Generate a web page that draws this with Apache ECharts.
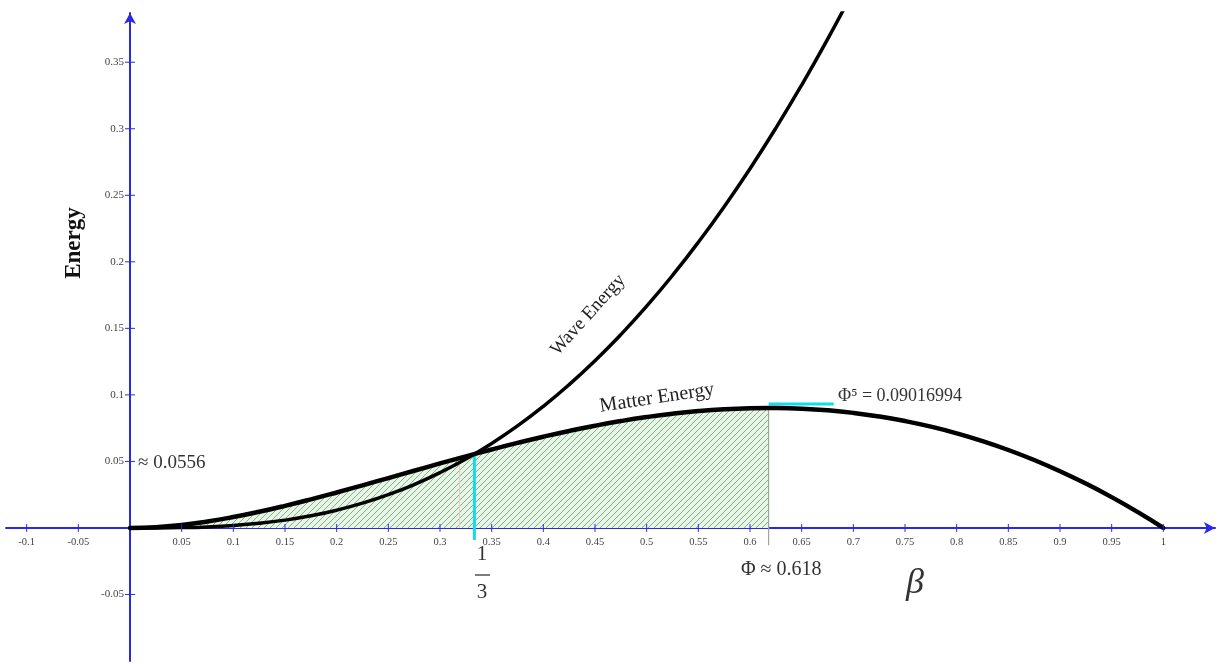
<!DOCTYPE html>
<html>
<head>
<meta charset="utf-8">
<script src="https://cdn.jsdelivr.net/npm/echarts@6/dist/echarts.min.js"></script>
<style>
html,body{margin:0;padding:0;background:#fff;}
#chart{width:1219px;height:664px;}
</style>
</head>
<body>
<div id="chart"></div>
<script>
// ---- data ----
const betaMatter = [0,0.025,0.05,0.075,0.1,0.125,0.15,0.175,0.2,0.225,0.25,0.275,0.3,0.325,0.35,0.375,0.4,0.425,0.45,0.475,0.5,0.525,0.55,0.575,0.6,0.618,0.625,0.65,0.675,0.7,0.725,0.75,0.775,0.8,0.825,0.85,0.875,0.9,0.925,0.95,0.975,1];
const matterEnergy = [0,0.000595,0.002262,0.00484,0.008182,0.012153,0.01663,0.021503,0.026667,0.032028,0.0375,0.043003,0.048462,0.053809,0.058981,0.06392,0.068571,0.072884,0.07681,0.080308,0.083333,0.08585,0.087823,0.089216,0.09,0.09017,0.090144,0.089621,0.088405,0.086471,0.083795,0.080357,0.076136,0.071111,0.065265,0.058581,0.051042,0.042632,0.033336,0.023141,0.012033,0];
const betaWave = [0,0.025,0.05,0.075,0.1,0.125,0.15,0.175,0.2,0.225,0.25,0.275,0.3,0.325,0.35,0.375,0.4,0.425,0.45,0.475,0.5,0.525,0.55,0.575,0.6,0.625,0.65,0.675,0.7];
const waveEnergy = [0,0.00003,0.000238,0.000785,0.001818,0.003472,0.00587,0.009122,0.013333,0.018597,0.025,0.032623,0.041538,0.051816,0.063519,0.076705,0.091429,0.107741,0.12569,0.145318,0.166667,0.189775,0.214677,0.241409,0.27,0.300481,0.332879,0.36722,0.403529];
const xTicks = [-0.1,-0.05,0.05,0.1,0.15,0.2,0.25,0.3,0.35,0.4,0.45,0.5,0.55,0.6,0.65,0.7,0.75,0.8,0.85,0.9,0.95,1];
const xTickLabels = ['-0.1','-0.05','0.05','0.1','0.15','0.2','0.25','0.3','0.35','0.4','0.45','0.5','0.55','0.6','0.65','0.7','0.75','0.8','0.85','0.9','0.95','1'];
const yTicks = [-0.05,0.05,0.1,0.15,0.2,0.25,0.3,0.35];
const yTickLabels = ['-0.05','0.05','0.1','0.15','0.2','0.25','0.3','0.35'];
const phi = 0.618;
const phi5 = 0.09016994;
const phi5Marker = 0.0932;
const phi5MarkerEnd = 0.681;
const oneThird = 0.3333;
const oneThirdValue = 0.0556;
const pinkBeta = 0.319;
const pinkValue = 0.0526;
const phiLineBottom = -0.013;
const thirdLineBottom = -0.009;

// ---- build ----
const matterPts = betaMatter.map((b,i)=>[b, matterEnergy[i]]);
const wavePts = betaWave.map((b,i)=>[b, waveEnergy[i]]);
const shadePts = matterPts.filter(p => p[0] <= phi + 1e-9);

// hatch pattern
const pc = document.createElement('canvas');
pc.width = 6; pc.height = 6;
const g = pc.getContext('2d');
g.fillStyle = '#eaf5ea';
g.fillRect(0,0,6,6);
g.strokeStyle = '#7fb67f';
g.lineWidth = 1;
g.beginPath();
g.moveTo(-1,7); g.lineTo(7,-1);
g.moveTo(-4,4); g.lineTo(4,-4);
g.moveTo(2,10); g.lineTo(10,2);
g.stroke();

const AXIS_BLUE = '#2a2ae6';
const tickFont = '10.5px "Liberation Serif", "DejaVu Serif", serif';
const yTickFont = '11px "Liberation Serif", "DejaVu Serif", serif';

function xTickRender(params, api){
  const p = api.coord([api.value(0), 0]);
  return {type:'group', children:[
    {type:'line', shape:{x1:p[0], y1:p[1]-4, x2:p[0], y2:p[1]+4}, style:{stroke:AXIS_BLUE, lineWidth:1}},
    {type:'text', x:p[0], y:p[1]+9, style:{text:xTickLabels[params.dataIndex], font:tickFont, fill:'#444', align:'center', verticalAlign:'top', textAlign:'center', textVerticalAlign:'top'}}
  ]};
}
function yTickRender(params, api){
  const p = api.coord([0, api.value(0)]);
  return {type:'group', children:[
    {type:'line', shape:{x1:p[0]-5, y1:p[1], x2:p[0]+5, y2:p[1]}, style:{stroke:AXIS_BLUE, lineWidth:1}},
    {type:'text', x:p[0]-6, y:p[1], style:{text:yTickLabels[params.dataIndex], font:yTickFont, fill:'#444', align:'right', verticalAlign:'middle', textAlign:'right', textVerticalAlign:'middle'}}
  ]};
}

const serif = '"Liberation Serif", "DejaVu Serif", serif';
function txt(text, x, y, font, opts){
  opts = opts || {};
  return {type:'text', x:x, y:y, rotation:opts.rotation||0, z:100,
    style:{text:text, font:font, fill:opts.fill||'#222', align:opts.align||'center', verticalAlign:'middle', textAlign:opts.align||'center', textVerticalAlign:'middle'}};
}

const chart = echarts.init(document.getElementById('chart'), null, {renderer:'canvas'});
chart.setOption({
  animation:false,
  backgroundColor:'#ffffff',
  grid:{left:6, top:13, width:1209, height:648, containLabel:false},
  xAxis:{type:'value', min:-0.12, max:1.05,
    axisLine:{onZero:true, symbol:['none','arrow'], symbolSize:[9,11], lineStyle:{color:AXIS_BLUE, width:2}},
    axisTick:{show:false}, axisLabel:{show:false}, splitLine:{show:false}},
  yAxis:{type:'value', min:-0.1, max:0.387,
    axisLine:{onZero:true, symbol:['none','arrow'], symbolSize:[9,11], lineStyle:{color:AXIS_BLUE, width:2}},
    axisTick:{show:false}, axisLabel:{show:false}, splitLine:{show:false}},
  series:[
    {type:'line', data:shadePts, smooth:true, showSymbol:false, symbol:'none',
      lineStyle:{width:0, opacity:0}, areaStyle:{color:{image:pc, repeat:'repeat'}, opacity:1}, z:1},
    {type:'line', data:[[pinkBeta,pinkValue],[pinkBeta,0]], symbol:'none', lineStyle:{color:'#f2c4c4', width:1}, z:2},
    {type:'line', data:[[phi,phi5],[phi,phiLineBottom]], symbol:'none', lineStyle:{color:'#9aa79a', width:1.2}, z:2},
    {type:'line', data:[[oneThird,oneThirdValue],[oneThird,thirdLineBottom]], symbol:'none', lineStyle:{color:'#10dcea', width:3}, z:3},
    {type:'line', data:[[phi,phi5Marker],[phi5MarkerEnd,phi5Marker]], symbol:'none', lineStyle:{color:'#10dcea', width:3}, z:3},
    {type:'line', data:matterPts, smooth:true, symbol:'none', lineStyle:{color:'#000', width:4.5, cap:'round'}, z:5},
    {type:'line', data:wavePts, smooth:true, symbol:'none', clip:true, lineStyle:{color:'#000', width:3.5, cap:'round'}, z:5},
    {type:'custom', data:xTicks.map(v=>[v]), renderItem:xTickRender, z:6, silent:true},
    {type:'custom', data:yTicks.map(v=>[v]), renderItem:yTickRender, z:6, silent:true}
  ],
  graphic:[
    txt('Energy', 74, 243, 'bold 23px ' + serif, {rotation:Math.PI/2, fill:'#111'}),
    txt('≈ 0.0556', 138, 463, '19px ' + serif, {align:'left', fill:'#333'}),
    txt('1', 482, 554, '21px ' + serif, {fill:'#333'}),
    {type:'line', shape:{x1:475, y1:575, x2:490, y2:575}, style:{stroke:'#444', lineWidth:1.4}, z:100},
    txt('3', 482, 592, '21px ' + serif, {fill:'#333'}),
    txt('Φ ≈ 0.618', 741, 570, '20px ' + serif, {align:'left', fill:'#333'}),
    txt('β', 915, 584, 'italic 36px ' + serif, {fill:'#333'}),
    txt('Φ⁵ = 0.09016994', 838, 396, '18px ' + serif, {align:'left', fill:'#333'}),
    txt('Wave Energy', 588, 315, '19px ' + serif, {rotation:0.84, fill:'#222'}),
    txt('Matter Energy', 657, 398, '20px ' + serif, {rotation:0.15, fill:'#222'})
  ]
});
</script>
</body>
</html>
